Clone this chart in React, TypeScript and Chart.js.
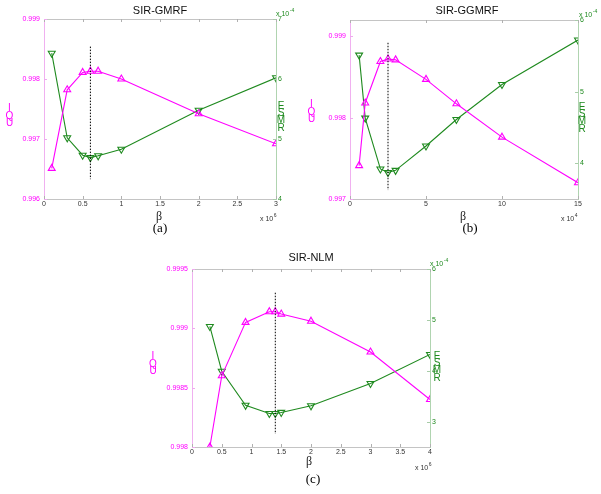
import React, { useEffect, useRef } from "react";
import { Chart, registerables } from "chart.js";
Chart.register(...registerables);

const W = 601;
const H = 494;
const MAGENTA = "#ff00ff";
const GREEN = "#1f8a1f";
const SANS = "'Liberation Sans', Arial, sans-serif";
const SERIF = "'Liberation Serif', 'Times New Roman', serif";

// ---- (a) SIR-GMRF ----
const A_BETA = [0.1, 0.3, 0.5, 0.6, 0.7, 1, 2, 3];
const A_UQI = [0.99651, 0.99782, 0.99811, 0.99813, 0.99813, 0.998, 0.99742, 0.99692];
const A_RMSE = [6.43, 5.02, 4.73, 4.69, 4.72, 4.83, 5.48, 6.02];
const A_OPT_BETA = 0.6;
const A_OPT_SPAN = [0.99854, 0.99633];
const A_XTICKS = [0, 0.5, 1, 1.5, 2, 2.5, 3];
const A_UQI_TICKS = [0.996, 0.997, 0.998, 0.999];
const A_RMSE_TICKS = [4, 5, 6, 7];

// ---- (b) SIR-GGMRF ----
const B_BETA = [0.6, 1, 2, 2.5, 3, 5, 7, 10, 15];
const B_UQI = [0.99741, 0.99818, 0.99869, 0.99872, 0.99871, 0.99847, 0.99817, 0.99776, 0.9972];
const B_RMSE = [5.51, 4.63, 3.92, 3.87, 3.9, 4.24, 4.61, 5.1, 5.72];
const B_OPT_BETA = 2.5;
const B_OPT_SPAN = [0.99892, 0.99711];
const B_XTICKS = [0, 5, 10, 15];
const B_UQI_TICKS = [0.997, 0.998, 0.999];
const B_RMSE_TICKS = [4, 5, 6];

// ---- (c) SIR-NLM ----
const C_BETA = [0.3, 0.5, 0.9, 1.3, 1.4, 1.5, 2, 3, 4];
const C_UQI = [0.998, 0.9986, 0.99905, 0.99914, 0.99914, 0.99912, 0.99906, 0.9988, 0.9984];
const C_RMSE = [4.87, 3.99, 3.32, 3.16, 3.16, 3.18, 3.31, 3.75, 4.32];
const C_OPT_BETA = 1.4;
const C_OPT_SPAN = [0.9993, 0.99811];
const C_XTICKS = [0, 0.5, 1, 1.5, 2, 2.5, 3, 3.5, 4];
const C_UQI_TICKS = [0.998, 0.9985, 0.999, 0.9995];
const C_RMSE_TICKS = [3, 4, 5, 6];

type Spec = {
  title: string;
  tag: string;
  xExp: string;
  beta: number[];
  uqi: number[];
  rmse: number[];
  opt: number;
  optSpan: number[];
  xTicks: number[];
  uqiTicks: number[];
  rmseTicks: number[];
  xRange: [number, number];
  uqiRange: [number, number];
  rmseRange: [number, number];
  area: { left: number; right: number; top: number; bottom: number };
  pos: {
    title: [number, number];
    beta: [number, number];
    tag: [number, number];
    xExp: [number, number];
    yExp: [number, number];
    leftLab: [number, number];
    rightLab: [number, number];
  };
};

const SPECS: Spec[] = [
  {
    title: "SIR-GMRF", tag: "(a)", xExp: "6",
    beta: A_BETA, uqi: A_UQI, rmse: A_RMSE, opt: A_OPT_BETA, optSpan: A_OPT_SPAN,
    xTicks: A_XTICKS, uqiTicks: A_UQI_TICKS, rmseTicks: A_RMSE_TICKS,
    xRange: [0, 3], uqiRange: [0.996, 0.999], rmseRange: [4, 7],
    area: { left: 44, right: 276, top: 19, bottom: 199 },
    pos: {
      title: [160, 11], beta: [159, 217], tag: [160, 229], xExp: [260, 219],
      yExp: [276, 14], leftLab: [9.5, 116], rightLab: [281, 117],
    },
  },
  {
    title: "SIR-GGMRF", tag: "(b)", xExp: "4",
    beta: B_BETA, uqi: B_UQI, rmse: B_RMSE, opt: B_OPT_BETA, optSpan: B_OPT_SPAN,
    xTicks: B_XTICKS, uqiTicks: B_UQI_TICKS, rmseTicks: B_RMSE_TICKS,
    xRange: [0, 15], uqiRange: [0.997, 0.9992], rmseRange: [3.5, 6],
    area: { left: 350, right: 578, top: 20, bottom: 199 },
    pos: {
      title: [467, 11], beta: [463, 217], tag: [470, 229], xExp: [561, 219],
      yExp: [579, 15], leftLab: [311.5, 112], rightLab: [582, 118],
    },
  },
  {
    title: "SIR-NLM", tag: "(c)", xExp: "6",
    beta: C_BETA, uqi: C_UQI, rmse: C_RMSE, opt: C_OPT_BETA, optSpan: C_OPT_SPAN,
    xTicks: C_XTICKS, uqiTicks: C_UQI_TICKS, rmseTicks: C_RMSE_TICKS,
    xRange: [0, 4], uqiRange: [0.998, 0.9995], rmseRange: [2.5, 6],
    area: { left: 192, right: 430, top: 269, bottom: 447 },
    pos: {
      title: [311, 258], beta: [309, 462], tag: [313, 480], xExp: [415, 468],
      yExp: [430, 264], leftLab: [153, 364], rightLab: [437, 367],
    },
  },
];

const LW = 40, RW = 20, XH = 30;

function fmt(v: number) {
  return String(+Number(v).toFixed(5));
}

function makeConfig(s: Spec): any {
  const textPlugin = {
    id: "texts_" + s.tag,
    afterDraw(chart: any) {
      const ctx = chart.ctx;
      const ca = chart.chartArea;
      ctx.save();
      // top box line
      ctx.strokeStyle = "#c4c4c4";
      ctx.lineWidth = 1;
      ctx.beginPath();
      ctx.moveTo(ca.left, ca.top + 0.5);
      ctx.lineTo(ca.right, ca.top + 0.5);
      ctx.stroke();
      // inward ticks
      const xs = chart.scales.x;
      ctx.strokeStyle = "#b0b0b0";
      s.xTicks.forEach((t) => {
        const px = Math.round(xs.getPixelForValue(t)) + 0.5;
        ctx.beginPath();
        ctx.moveTo(px, ca.bottom);
        ctx.lineTo(px, ca.bottom - 3);
        ctx.moveTo(px, ca.top);
        ctx.lineTo(px, ca.top + 3);
        ctx.stroke();
      });
      const yl = chart.scales.yL;
      ctx.strokeStyle = "#f0a8f0";
      s.uqiTicks.forEach((t) => {
        const py = Math.round(yl.getPixelForValue(t)) + 0.5;
        ctx.beginPath();
        ctx.moveTo(ca.left, py);
        ctx.lineTo(ca.left + 3, py);
        ctx.stroke();
      });
      const yr = chart.scales.yR;
      ctx.strokeStyle = "#a8cca8";
      s.rmseTicks.forEach((t) => {
        const py = Math.round(yr.getPixelForValue(t)) + 0.5;
        ctx.beginPath();
        ctx.moveTo(ca.right, py);
        ctx.lineTo(ca.right - 3, py);
        ctx.stroke();
      });

      ctx.textBaseline = "middle";
      ctx.textAlign = "center";
      // title
      ctx.fillStyle = "#111";
      ctx.font = `11px ${SANS}`;
      ctx.fillText(s.title, s.pos.title[0], s.pos.title[1]);
      // beta
      ctx.font = `12px ${SERIF}`;
      ctx.fillStyle = "#222";
      ctx.fillText("β", s.pos.beta[0], s.pos.beta[1]);
      // tag
      ctx.font = `13px ${SERIF}`;
      ctx.fillStyle = "#000";
      ctx.fillText(s.tag, s.pos.tag[0], s.pos.tag[1]);
      // x exponent
      ctx.textAlign = "left";
      ctx.font = `7px ${SANS}`;
      ctx.fillStyle = "#333";
      ctx.fillText("x 10", s.pos.xExp[0], s.pos.xExp[1]);
      const w1 = ctx.measureText("x 10").width;
      ctx.font = `5px ${SANS}`;
      ctx.fillText(s.xExp, s.pos.xExp[0] + w1 + 0.5, s.pos.xExp[1] - 3);
      // y exponent
      ctx.font = `7px ${SANS}`;
      ctx.fillStyle = GREEN;
      ctx.fillText("x 10", s.pos.yExp[0], s.pos.yExp[1]);
      const w2 = ctx.measureText("x 10").width;
      ctx.font = `5px ${SANS}`;
      ctx.fillText("-4", s.pos.yExp[0] + w2 + 0.5, s.pos.yExp[1] - 3);
      // axis labels (stacked letters)
      ctx.textAlign = "center";
      ctx.font = `10px ${SANS}`;
      const left = ["I", "Q", "U"];
      ctx.fillStyle = MAGENTA;
      left.forEach((ch, i) => {
        ctx.fillText(ch, s.pos.leftLab[0], s.pos.leftLab[1] + (i - (left.length - 1) / 2) * 7.3);
      });
      const right = ["E", "S", "M", "R"];
      ctx.fillStyle = GREEN;
      right.forEach((ch, i) => {
        ctx.fillText(ch, s.pos.rightLab[0], s.pos.rightLab[1] + (i - (right.length - 1) / 2) * 7.3);
      });
      ctx.restore();
    },
  };

  const tickFont = { family: SANS, size: 7 };
  return {
    type: "line",
    data: {
      datasets: [
        {
          label: "opt",
          data: [
            { x: s.opt, y: s.optSpan[0] },
            { x: s.opt, y: s.optSpan[1] },
          ],
          yAxisID: "yL",
          borderColor: "#000",
          borderWidth: 1,
          borderDash: [1.5, 1.5],
          pointRadius: 0,
        },
        {
          label: "UQI",
          data: s.beta.map((b, i) => ({ x: b, y: s.uqi[i] })),
          yAxisID: "yL",
          borderColor: MAGENTA,
          borderWidth: 1.1,
          pointStyle: "triangle",
          pointRadius: 4,
          pointBorderColor: MAGENTA,
          pointBackgroundColor: "rgba(255,255,255,0)",
          pointBorderWidth: 1.1,
        },
        {
          label: "RMSE",
          data: s.beta.map((b, i) => ({ x: b, y: s.rmse[i] })),
          yAxisID: "yR",
          borderColor: GREEN,
          borderWidth: 1.1,
          pointStyle: "triangle",
          pointRotation: 180,
          pointRadius: 4,
          pointBorderColor: GREEN,
          pointBackgroundColor: "rgba(255,255,255,0)",
          pointBorderWidth: 1.1,
        },
      ],
    },
    options: {
      animation: false,
      responsive: false,
      devicePixelRatio: 1,
      events: [],
      layout: {
        padding: {
          left: s.area.left - LW,
          right: W - s.area.right - RW,
          top: s.area.top,
          bottom: H - s.area.bottom - XH,
        },
      },
      plugins: { legend: { display: false }, tooltip: { enabled: false }, title: { display: false } },
      scales: {
        x: {
          type: "linear",
          position: "bottom",
          min: s.xRange[0],
          max: s.xRange[1],
          afterBuildTicks: (sc: any) => { sc.ticks = s.xTicks.map((v) => ({ value: v })); },
          afterFit: (sc: any) => { sc.height = XH; },
          grid: { display: false, drawTicks: false },
          border: { display: true, color: "#c4c4c4", width: 1 },
          ticks: {
            font: tickFont, color: "#333", padding: 1, autoSkip: false, maxRotation: 0,
            callback: (v: any) => fmt(v),
          },
        },
        yL: {
          type: "linear",
          position: "left",
          min: s.uqiRange[0],
          max: s.uqiRange[1],
          afterBuildTicks: (sc: any) => { sc.ticks = s.uqiTicks.map((v) => ({ value: v })); },
          afterFit: (sc: any) => { sc.width = LW; },
          grid: { display: false, drawTicks: false },
          border: { display: true, color: "#f0b0f0", width: 1 },
          ticks: { font: tickFont, color: MAGENTA, padding: 4, autoSkip: false, callback: (v: any) => fmt(v) },
        },
        yR: {
          type: "linear",
          position: "right",
          min: s.rmseRange[0],
          max: s.rmseRange[1],
          afterBuildTicks: (sc: any) => { sc.ticks = s.rmseTicks.map((v) => ({ value: v })); },
          afterFit: (sc: any) => { sc.width = RW; },
          grid: { display: false, drawTicks: false },
          border: { display: true, color: "#b0d4b0", width: 1 },
          ticks: { font: tickFont, color: GREEN, padding: 2, autoSkip: false, callback: (v: any) => fmt(v) },
        },
      },
    },
    plugins: [textPlugin],
  };
}

function Panel({ spec }: { spec: Spec }) {
  const ref = useRef<HTMLCanvasElement | null>(null);
  useEffect(() => {
    if (!ref.current) return;
    const chart = new Chart(ref.current, makeConfig(spec));
    return () => chart.destroy();
  }, [spec]);
  return (
    <canvas
      ref={ref}
      width={W}
      height={H}
      style={{ position: "absolute", left: 0, top: 0, width: W, height: H }}
    />
  );
}

export default function App() {
  return (
    <div style={{ position: "absolute", left: 0, top: 0, width: W, height: H, background: "#fff" }}>
      {SPECS.map((s) => (
        <Panel key={s.tag} spec={s} />
      ))}
    </div>
  );
}
